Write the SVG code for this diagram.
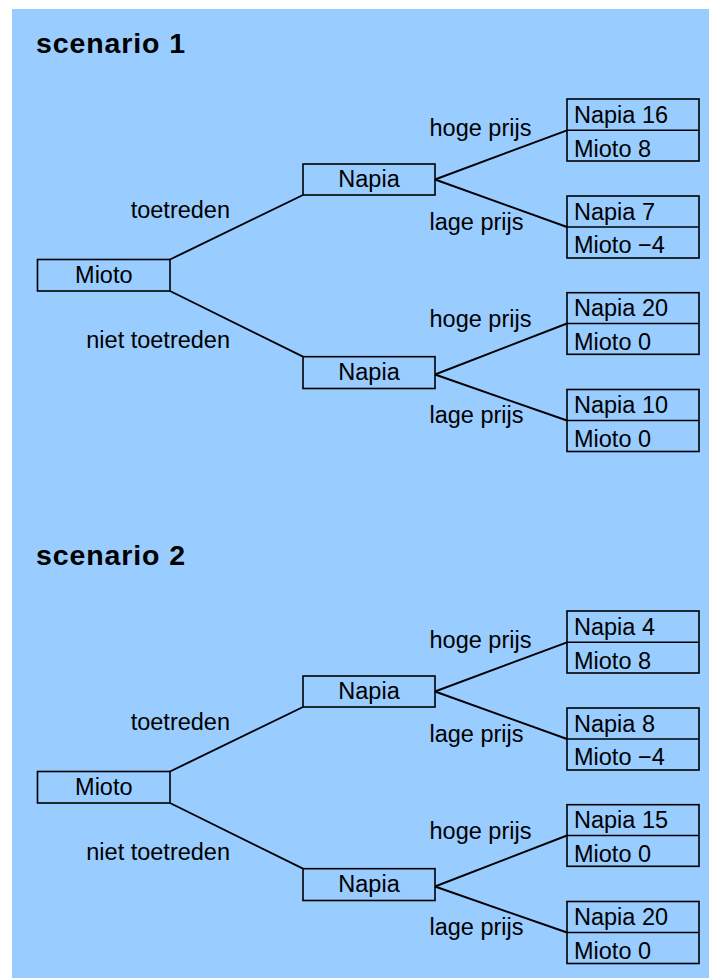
<svg xmlns="http://www.w3.org/2000/svg" width="709" height="979" viewBox="0 0 709 979">
<style>
.bg{fill:#99CCFF}
.box{fill:none;stroke:#000;stroke-width:1.6}
.ln{fill:none;stroke:#000;stroke-width:1.9}
text{font-family:"Liberation Sans",Arial,sans-serif;font-size:23.5px;fill:#000}
.t{font-weight:bold;font-size:28.5px;letter-spacing:0.9px}
.m{text-anchor:middle}
.e{text-anchor:end}
</style>
<rect class="bg" x="12" y="9" width="697" height="969"/>

<!-- Scenario 1 -->
<g id="scenario1">
<text class="t" x="36" y="52.5">scenario 1</text>
<g id="s1-connectors">
<line class="ln" x1="170" y1="259.5" x2="303" y2="195"/>
<line class="ln" x1="170" y1="291" x2="303" y2="356.7"/>
<line class="ln" x1="435" y1="179.5" x2="567" y2="130.3"/>
<line class="ln" x1="435" y1="179.5" x2="567" y2="227"/>
<line class="ln" x1="435" y1="374.5" x2="567" y2="323.5"/>
<line class="ln" x1="435" y1="374.5" x2="567" y2="420.5"/>
<text x="429.5" y="136">hoge prijs</text>
<text x="429.5" y="229.5">lage prijs</text>
<text x="429.5" y="327">hoge prijs</text>
<text x="429.5" y="423">lage prijs</text>
<text class="e" x="230" y="218.3">toetreden</text>
<text class="e" x="230" y="348.3">niet toetreden</text>
</g>
<g id="s1-mioto">
<rect class="box" x="37.5" y="259.5" width="132.5" height="31.5"/>
<text class="m" x="103.8" y="282.7">Mioto</text>
</g>
<g id="s1-napia-top">
<rect class="box" x="303" y="164" width="132" height="31"/>
<text class="m" x="369" y="186.7">Napia</text>
</g>
<g id="s1-napia-bottom">
<rect class="box" x="303" y="356.7" width="132" height="31.8"/>
<text class="m" x="369" y="380">Napia</text>
</g>
<g id="s1-leaf1">
<rect class="box" x="567" y="99" width="132" height="62"/>
<line class="box" x1="567" y1="130.3" x2="699" y2="130.3"/>
<text x="574" y="122.5">Napia 16</text>
<text x="574" y="156.5">Mioto 8</text>
</g>
<g id="s1-leaf2">
<rect class="box" x="567" y="196" width="132" height="62"/>
<line class="box" x1="567" y1="227" x2="699" y2="227"/>
<text x="574" y="219.5">Napia 7</text>
<text x="574" y="253.3">Mioto −4</text>
</g>
<g id="s1-leaf3">
<rect class="box" x="567" y="292.7" width="132" height="61.6"/>
<line class="box" x1="567" y1="323.5" x2="699" y2="323.5"/>
<text x="574" y="316">Napia 20</text>
<text x="574" y="349.8">Mioto 0</text>
</g>
<g id="s1-leaf4">
<rect class="box" x="567" y="389.5" width="132" height="62"/>
<line class="box" x1="567" y1="420.5" x2="699" y2="420.5"/>
<text x="574" y="413">Napia 10</text>
<text x="574" y="447">Mioto 0</text>
</g>
</g>

<!-- Scenario 2 -->
<g id="scenario2">
<text class="t" x="36" y="564.5">scenario 2</text>
<g id="s2-connectors">
<line class="ln" x1="170" y1="771.5" x2="303" y2="707"/>
<line class="ln" x1="170" y1="803" x2="303" y2="868.7"/>
<line class="ln" x1="435" y1="691.5" x2="567" y2="642.3"/>
<line class="ln" x1="435" y1="691.5" x2="567" y2="739"/>
<line class="ln" x1="435" y1="886.5" x2="567" y2="835.5"/>
<line class="ln" x1="435" y1="886.5" x2="567" y2="932.5"/>
<text x="429.5" y="648">hoge prijs</text>
<text x="429.5" y="741.5">lage prijs</text>
<text x="429.5" y="839">hoge prijs</text>
<text x="429.5" y="935">lage prijs</text>
<text class="e" x="230" y="730.3">toetreden</text>
<text class="e" x="230" y="860.3">niet toetreden</text>
</g>
<g id="s2-mioto">
<rect class="box" x="37.5" y="771.5" width="132.5" height="31.5"/>
<text class="m" x="103.8" y="794.7">Mioto</text>
</g>
<g id="s2-napia-top">
<rect class="box" x="303" y="676" width="132" height="31"/>
<text class="m" x="369" y="698.7">Napia</text>
</g>
<g id="s2-napia-bottom">
<rect class="box" x="303" y="868.7" width="132" height="31.8"/>
<text class="m" x="369" y="892">Napia</text>
</g>
<g id="s2-leaf1">
<rect class="box" x="567" y="611" width="132" height="62"/>
<line class="box" x1="567" y1="642.3" x2="699" y2="642.3"/>
<text x="574" y="634.5">Napia 4</text>
<text x="574" y="668.5">Mioto 8</text>
</g>
<g id="s2-leaf2">
<rect class="box" x="567" y="708" width="132" height="62"/>
<line class="box" x1="567" y1="739" x2="699" y2="739"/>
<text x="574" y="731.5">Napia 8</text>
<text x="574" y="765.3">Mioto −4</text>
</g>
<g id="s2-leaf3">
<rect class="box" x="567" y="804.7" width="132" height="61.6"/>
<line class="box" x1="567" y1="835.5" x2="699" y2="835.5"/>
<text x="574" y="828">Napia 15</text>
<text x="574" y="861.8">Mioto 0</text>
</g>
<g id="s2-leaf4">
<rect class="box" x="567" y="901.5" width="132" height="62"/>
<line class="box" x1="567" y1="932.5" x2="699" y2="932.5"/>
<text x="574" y="925">Napia 20</text>
<text x="574" y="959">Mioto 0</text>
</g>
</g>
</svg>
